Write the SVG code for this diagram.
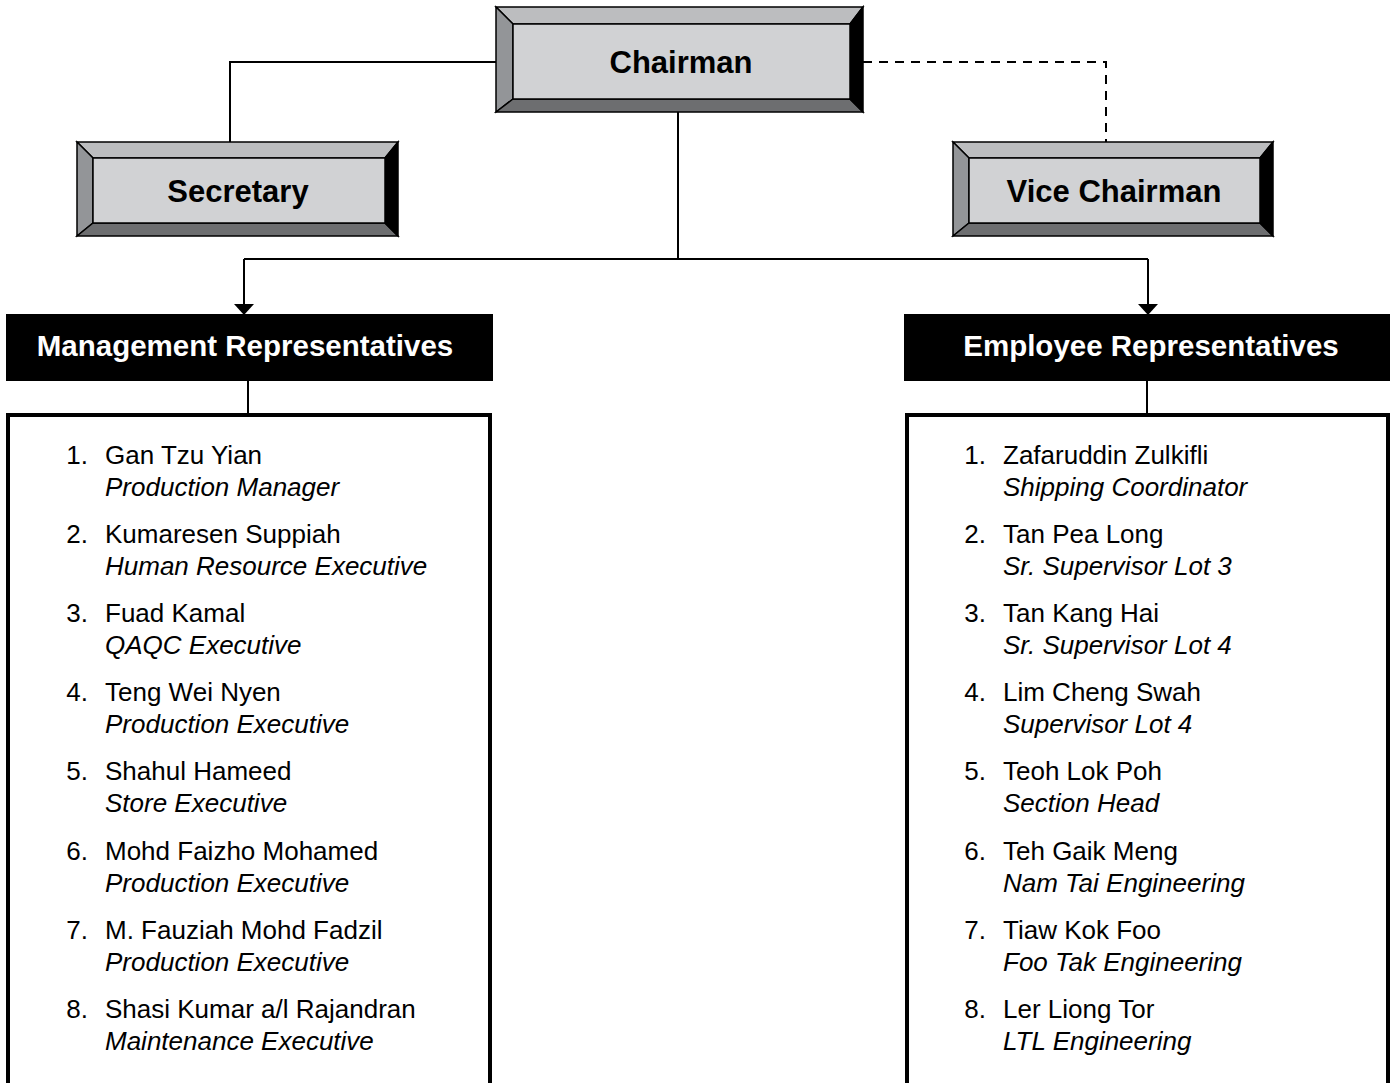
<svg xmlns="http://www.w3.org/2000/svg" width="1395" height="1083" viewBox="0 0 1395 1083">
<style>
.bv{stroke:#000;stroke-width:1.5;stroke-linejoin:miter}
.t{fill:#bcbdbf}.l{fill:#939598}.b{fill:#6d6e70}.r{fill:#000}.in{fill:#d1d2d4}
.title{font-family:"Liberation Sans",Arial,sans-serif;font-weight:bold;font-size:31px;fill:#000;text-anchor:middle}
.hdr{font-family:"Liberation Sans",Arial,sans-serif;font-weight:bold;font-size:29.5px;fill:#fff;text-anchor:middle}
.line{fill:none;stroke:#000;stroke-width:2}
.dash{fill:none;stroke:#000;stroke-width:2;stroke-dasharray:9 7}
.lst{font-family:"Liberation Sans",Arial,sans-serif;font-size:26px;fill:#000}
.num{text-anchor:end}
.role{font-style:italic}
.box{fill:#fff;stroke:#000;stroke-width:4}
</style>
<g id="connectors">
<path class="line" d="M496,62 H230 V142"/>
<path class="dash" d="M863,62 H1106 V142"/>
<path class="line" d="M678,112 V259"/>
<path class="line" d="M244,259 H1148"/>
<path d="M244,259 V306" class="line"/>
<path d="M1148,259 V306" class="line"/>
<path d="M234,304 L254,304 L244,315 Z" fill="#000"/>
<path d="M1138,304 L1158,304 L1148,315 Z" fill="#000"/>
<path class="line" d="M248,381 V415"/>
<path class="line" d="M1147,381 V415"/>
</g>
<g id="chairman">
<polygon class="bv t" points="496,7 863,7 850,24 513,24"/>
<polygon class="bv l" points="496,7 513,24 513,99 496,112"/>
<polygon class="bv b" points="496,112 513,99 850,99 863,112"/>
<polygon class="bv r" points="863,7 863,112 850,99 850,24"/>
<rect class="bv in" x="513" y="24" width="337" height="75"/>
<text class="title" x="681" y="73">Chairman</text>
</g>
<g id="secretary">
<polygon class="bv t" points="77,142 398,142 385,158 93,158"/>
<polygon class="bv l" points="77,142 93,158 93,223 77,236"/>
<polygon class="bv b" points="77,236 93,223 385,223 398,236"/>
<polygon class="bv r" points="398,142 398,236 385,223 385,158"/>
<rect class="bv in" x="93" y="158" width="292" height="65"/>
<text class="title" x="238" y="202">Secretary</text>
</g>
<g id="vice-chairman">
<polygon class="bv t" points="953,142 1273,142 1260,158 969,158"/>
<polygon class="bv l" points="953,142 969,158 969,223 953,236"/>
<polygon class="bv b" points="953,236 969,223 1260,223 1273,236"/>
<polygon class="bv r" points="1273,142 1273,236 1260,223 1260,158"/>
<rect class="bv in" x="969" y="158" width="291" height="65"/>
<text class="title" x="1114" y="202">Vice Chairman</text>
</g>
<g id="management-header">
<rect x="6" y="314" width="487" height="67" fill="#000"/>
<text class="hdr" x="245" y="356">Management Representatives</text>
</g>
<g id="employee-header">
<rect x="904" y="314" width="486" height="67" fill="#000"/>
<text class="hdr" x="1151" y="356">Employee Representatives</text>
</g>
<g id="management-list">
<rect class="box" x="8" y="415" width="482" height="700"/>
<g class="lst">
<text class="num" x="88" y="464">1.</text><text x="105" y="464">Gan Tzu Yian</text><text class="role" x="105" y="496">Production Manager</text>
<text class="num" x="88" y="543">2.</text><text x="105" y="543">Kumaresen Suppiah</text><text class="role" x="105" y="575">Human Resource Executive</text>
<text class="num" x="88" y="622">3.</text><text x="105" y="622">Fuad Kamal</text><text class="role" x="105" y="654">QAQC Executive</text>
<text class="num" x="88" y="701">4.</text><text x="105" y="701">Teng Wei Nyen</text><text class="role" x="105" y="733">Production Executive</text>
<text class="num" x="88" y="780">5.</text><text x="105" y="780">Shahul Hameed</text><text class="role" x="105" y="812">Store Executive</text>
<text class="num" x="88" y="860">6.</text><text x="105" y="860">Mohd Faizho Mohamed</text><text class="role" x="105" y="892">Production Executive</text>
<text class="num" x="88" y="939">7.</text><text x="105" y="939">M. Fauziah Mohd Fadzil</text><text class="role" x="105" y="971">Production Executive</text>
<text class="num" x="88" y="1018">8.</text><text x="105" y="1018">Shasi Kumar a/l Rajandran</text><text class="role" x="105" y="1050">Maintenance Executive</text>
</g>
</g>
<g id="employee-list">
<rect class="box" x="907" y="415" width="481" height="700"/>
<g class="lst">
<text class="num" x="986" y="464">1.</text><text x="1003" y="464">Zafaruddin Zulkifli</text><text class="role" x="1003" y="496">Shipping Coordinator</text>
<text class="num" x="986" y="543">2.</text><text x="1003" y="543">Tan Pea Long</text><text class="role" x="1003" y="575">Sr. Supervisor Lot 3</text>
<text class="num" x="986" y="622">3.</text><text x="1003" y="622">Tan Kang Hai</text><text class="role" x="1003" y="654">Sr. Supervisor Lot 4</text>
<text class="num" x="986" y="701">4.</text><text x="1003" y="701">Lim Cheng Swah</text><text class="role" x="1003" y="733">Supervisor Lot 4</text>
<text class="num" x="986" y="780">5.</text><text x="1003" y="780">Teoh Lok Poh</text><text class="role" x="1003" y="812">Section Head</text>
<text class="num" x="986" y="860">6.</text><text x="1003" y="860">Teh Gaik Meng</text><text class="role" x="1003" y="892">Nam Tai Engineering</text>
<text class="num" x="986" y="939">7.</text><text x="1003" y="939">Tiaw Kok Foo</text><text class="role" x="1003" y="971">Foo Tak Engineering</text>
<text class="num" x="986" y="1018">8.</text><text x="1003" y="1018">Ler Liong Tor</text><text class="role" x="1003" y="1050">LTL Engineering</text>
</g>
</g>
</svg>
